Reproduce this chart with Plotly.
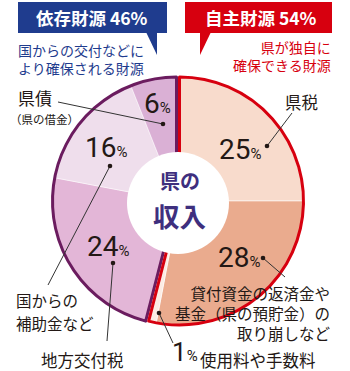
import plotly.graph_objects as go

# ---- data ----
categories = ['県税', '貸付資金の返済金や基金（県の預貯金）の取り崩しなど', '使用料や手数料',
              '地方交付税', '国からの補助金など', '県債']
values = [25, 28, 1, 24, 16, 6]
group_names = ['自主財源', '依存財源']
group_values = [54, 46]
group_notes = [['県が独自に', '確保できる財源'], ['国からの交付などに', 'より確保される財源']]

# ---- styles ----
slice_colors = ['#f8dbcc', '#eaab8e', '#fcece4', '#e3b6d7', '#efdeec', '#dab0d5']
RED = '#d7000f'
PURPLE = '#6b1c5f'
BLUE = '#1f3c8e'
INK = '#231815'
NAVY = '#3e2f7e'
JP = 'Noto Sans CJK JP, Noto Sans, sans-serif'
NUM = 'Liberation Sans Narrow, Roboto, sans-serif'
TRANSP = 'rgba(0,0,0,0)'

W, H = 350, 371
CX, CY, R = 178, 201, 124
SHIFT = 1.5


def px(x):
    return x / W


def py(y):
    return 1 - y / H


def dom(cx, cy, r):
    return dict(x=[(cx - r) / W, (cx + r) / W], y=[1 - (cy + r) / H, 1 - (cy - r) / H])


n_right = 3
right_vals = values[:n_right] + [sum(values[n_right:])]
left_vals = [sum(values[:n_right])] + values[n_right:]

common = dict(sort=False, direction='clockwise', rotation=0, textinfo='none',
              hoverinfo='skip', showlegend=False)

fig = go.Figure()
# left group fills
fig.add_trace(go.Pie(values=left_vals, labels=['_r'] + categories[n_right:],
                     marker=dict(colors=[TRANSP] + slice_colors[n_right:],
                                 line=dict(color='rgba(255,255,255,0.6)',
                                           width=[0] + [0.8] * (len(values) - n_right))),
                     domain=dom(CX - SHIFT, CY, R), **common))
# right group fills
fig.add_trace(go.Pie(values=right_vals, labels=categories[:n_right] + ['_l'],
                     marker=dict(colors=slice_colors[:n_right] + [TRANSP],
                                 line=dict(color='rgba(255,255,255,0.7)', width=[0.8] * n_right + [0])),
                     domain=dom(CX + SHIFT, CY, R), **common))
# group outlines
fig.add_trace(go.Pie(values=group_values, labels=group_names,
                     marker=dict(colors=[TRANSP, TRANSP], line=dict(color=[TRANSP, PURPLE], width=[0, 3])),
                     domain=dom(CX - SHIFT, CY, R), **common))
fig.add_trace(go.Pie(values=group_values, labels=group_names,
                     marker=dict(colors=[TRANSP, TRANSP], line=dict(color=[RED, TRANSP], width=[3, 0])),
                     domain=dom(CX + SHIFT, CY, R), **common))
# white centre disc
fig.add_trace(go.Pie(values=[1], labels=['center'], marker=dict(colors=['white'], line=dict(width=0)),
                     domain=dom(178, 203, 51), **common))

ann = []
shapes = []


def text(x, y, s, size, color=INK, family=JP, xanchor='center', align='center', yanchor='middle'):
    ann.append(dict(x=px(x), y=py(y), xref='paper', yref='paper', text=s, showarrow=False,
                    xanchor=xanchor, yanchor=yanchor, align=align,
                    font=dict(size=size, color=color, family=family)))


def leader(x0, y0, x1, y1, r=2.3):
    shapes.append(dict(type='line', xref='paper', yref='paper', x0=px(x0), y0=py(y0),
                       x1=px(x1), y1=py(y1), line=dict(color='#333333', width=1)))
    shapes.append(dict(type='circle', xref='paper', yref='paper', x0=px(x0 - r), x1=px(x0 + r),
                       y0=py(y0 + r), y1=py(y0 - r), fillcolor=INK, line=dict(width=0)))


def pct(v, big=28, small=15):
    return f"<span style='font-size:{big}px'>{v}</span><span style='font-size:{small}px'>%</span>"


# percentage labels
pct_pos = [(240, 149), (239, 257), None, (108, 246), (106, 147), (157, 103)]
for v, pos in zip(values, pct_pos):
    if pos:
        text(pos[0], pos[1], pct(v), 28, family=NUM)

# 1% label line
text(170, 369, pct(values[2], 26, 15), 26, family=NUM, xanchor='left', yanchor='bottom')
text(198, 360, categories[2], 16.5, xanchor='left')

# category labels
text(301, 102, categories[0], 16.5)
text(333, 313, '貸付資金の返済金や<br>基金（県の預貯金）の<br>取り崩しなど', 15.5,
     xanchor='right', align='right')
text(82, 360, categories[3], 16.5)
text(14, 299.5, '国からの', 15.5, xanchor='left')
text(14, 322.5, '補助金など', 15.5, xanchor='left')
text(35, 97, categories[5], 17)
text(45, 118.5, '（県の借金）', 11.5)

# leader lines
leader(267, 146, 292, 113)
leader(263, 258, 285, 277)
leader(159, 313, 173, 343)
leader(113, 263, 107, 341)
leader(110, 166, 48, 285)
leader(163, 124, 58, 102)

# centre text
text(180, 181, '<b>県の</b>', 20, color=NAVY)
text(180, 215, '<b>収入</b>', 26.5, color=NAVY)

# headers
text(92, 18, f"<b>{group_names[1]} {group_values[1]}%</b>", 17.5, color='white')
text(261, 18, f"<b>{group_names[0]} {group_values[0]}%</b>", 17.5, color='white')
text(16, 59, '<br>'.join(group_notes[1]), 14, color=BLUE, xanchor='left', align='left')
text(333, 56, '<br>'.join(group_notes[0]), 14, color=RED, xanchor='right', align='right')

shapes += [
    dict(type='rect', xref='paper', yref='paper', x0=px(18), x1=px(167), y0=py(33), y1=py(2),
         fillcolor=BLUE, line=dict(width=0), layer='below'),
    dict(type='path', xref='paper', yref='paper',
         path=f"M {px(146)},{py(32)} L {px(157)},{py(32)} L {px(157)},{py(55)} Z",
         fillcolor=BLUE, line=dict(width=0), layer='below'),
    dict(type='rect', xref='paper', yref='paper', x0=px(185), x1=px(332), y0=py(33), y1=py(2),
         fillcolor=RED, line=dict(width=0), layer='below'),
    dict(type='path', xref='paper', yref='paper',
         path=f"M {px(200)},{py(32)} L {px(211)},{py(32)} L {px(200)},{py(55)} Z",
         fillcolor=RED, line=dict(width=0), layer='below'),
]

fig.update_layout(width=W, height=H, margin=dict(l=0, r=0, t=0, b=0),
                  paper_bgcolor='white', plot_bgcolor='white', showlegend=False,
                  annotations=ann, shapes=shapes)

fig.write_html('out.html')
